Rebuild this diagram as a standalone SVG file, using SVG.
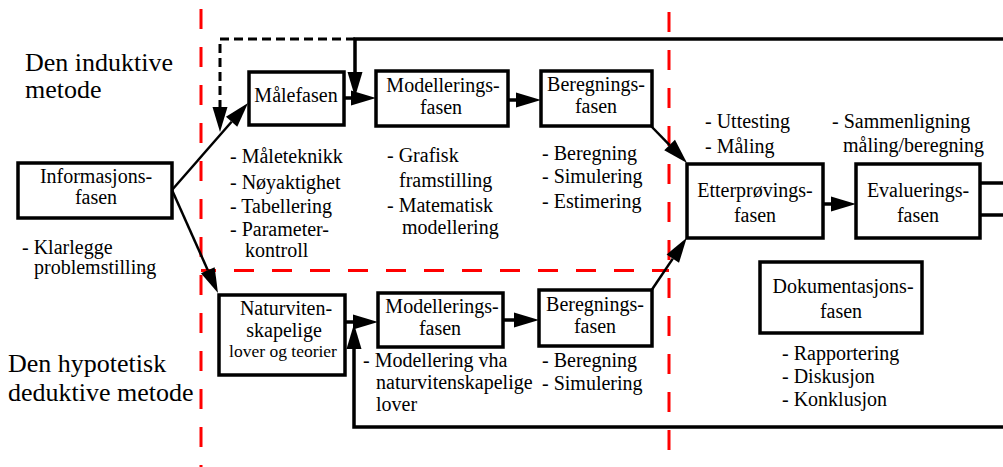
<svg xmlns="http://www.w3.org/2000/svg" width="1003" height="467" viewBox="0 0 1003 467">
<defs>
<marker id="ah" markerUnits="userSpaceOnUse" markerWidth="26" markerHeight="16" refX="0" refY="7.5" orient="auto" overflow="visible">
<path d="M0,0 L25,7.5 L0,15 z" fill="#000"/>
</marker>
<style>
text{font-family:"Liberation Serif","Times New Roman",serif;font-size:20px;fill:#000}
.big{font-size:26px}
.sm{font-size:17.5px}
.c{text-anchor:middle}
.box{fill:#fff;stroke:#000;stroke-width:3.5}
.ln{fill:none;stroke:#000;stroke-width:3.5}
.dg{fill:none;stroke:#000;stroke-width:2.5}
.red{fill:none;stroke:#f00;stroke-width:3;stroke-dasharray:20,18}
.dash{fill:none;stroke:#000;stroke-width:3;stroke-dasharray:9,5}
</style>
</defs>
<rect width="1003" height="467" fill="#fff"/>

<g id="red-lines">
<line class="red" x1="201" y1="9" x2="201" y2="467"/>
<line class="red" x1="669" y1="12" x2="669" y2="467"/>
<line class="red" x1="201" y1="270.5" x2="669" y2="270.5" stroke-dashoffset="5"/>
</g>

<g id="labels">
<text class="big" x="25" y="71">Den induktive</text>
<text class="big" x="25" y="98">metode</text>
<text class="big" x="8" y="372">Den hypotetisk</text>
<text class="big" x="8" y="401">deduktive metode</text>
<text x="22" y="254">- Klarlegge</text>
<text x="34" y="274">problemstilling</text>
<text x="230" y="163">- Måleteknikk</text>
<text x="230" y="189">- Nøyaktighet</text>
<text x="230" y="213">- Tabellering</text>
<text x="230" y="236">- Parameter-</text>
<text x="245" y="257">kontroll</text>
<text x="387" y="162">- Grafisk</text>
<text x="399" y="187">framstilling</text>
<text x="387" y="212">- Matematisk</text>
<text x="402" y="234">modellering</text>
<text x="542" y="160">- Beregning</text>
<text x="542" y="183">- Simulering</text>
<text x="542" y="208">- Estimering</text>
<text x="705" y="128">- Uttesting</text>
<text x="705" y="153">- Måling</text>
<text x="832" y="128">- Sammenligning</text>
<text x="843" y="152">måling/beregning</text>
<text x="363" y="367">- Modellering vha</text>
<text x="376" y="389">naturvitenskapelige</text>
<text x="376" y="411">lover</text>
<text x="542" y="367">- Beregning</text>
<text x="542" y="390">- Simulering</text>
<text x="782" y="360">- Rapportering</text>
<text x="782" y="383">- Diskusjon</text>
<text x="782" y="406">- Konklusjon</text>
</g>

<g id="connectors">
<polyline class="dash" points="355,39 220,39 220,107" marker-end="url(#ah)"/>
<polyline class="ln" points="1003,39 355,39 355,72" marker-end="url(#ah)"/>
<polyline class="ln" points="1003,427 354,427 354,349" marker-end="url(#ah)"/>
<line class="dg" x1="172" y1="190" x2="231.6" y2="121.8" marker-end="url(#ah)"/>
<line class="dg" x1="172" y1="190" x2="207.8" y2="270.2" marker-end="url(#ah)"/>
<line class="ln" x1="344" y1="98" x2="351" y2="98" marker-end="url(#ah)"/>
<line class="ln" x1="508" y1="100" x2="516" y2="100" marker-end="url(#ah)"/>
<line class="dg" x1="651" y1="126" x2="669.6" y2="145.1" marker-end="url(#ah)"/>
<line class="dg" x1="651" y1="291" x2="672.8" y2="258.6" marker-end="url(#ah)"/>
<line class="ln" x1="345" y1="322" x2="353" y2="322" marker-end="url(#ah)"/>
<line class="ln" x1="503" y1="320" x2="514" y2="320" marker-end="url(#ah)"/>
<line class="ln" x1="823" y1="204" x2="831" y2="204" marker-end="url(#ah)"/>
<line class="ln" x1="980" y1="183" x2="1003" y2="183"/>
<line class="ln" x1="980" y1="215" x2="1003" y2="215"/>
</g>

<g id="informasjonsfasen">
<rect class="box" x="18" y="163" width="154" height="55"/>
<text class="c" x="96" y="183">Informasjons-</text>
<text class="c" x="96" y="204">fasen</text>
</g>
<g id="malefasen">
<rect class="box" x="249" y="72" width="95" height="53"/>
<text class="c" x="296" y="102">Målefasen</text>
</g>
<g id="modelleringsfasen1">
<rect class="box" x="376" y="71" width="132" height="55"/>
<text class="c" x="443" y="92">Modellerings-</text>
<text class="c" x="441" y="114">fasen</text>
</g>
<g id="beregningsfasen1">
<rect class="box" x="541" y="71" width="111" height="55"/>
<text class="c" x="596" y="91">Beregnings-</text>
<text class="c" x="596" y="113">fasen</text>
</g>
<g id="naturvitenskapelige">
<rect class="box" x="219" y="295" width="126" height="80"/>
<text class="c" x="286" y="315">Naturviten-</text>
<text class="c" x="284" y="337">skapelige</text>
<text class="c sm" x="283" y="357">lover og teorier</text>
</g>
<g id="modelleringsfasen2">
<rect class="box" x="378" y="293" width="125" height="54"/>
<text class="c" x="442" y="313">Modellerings-</text>
<text class="c" x="440" y="335">fasen</text>
</g>
<g id="beregningsfasen2">
<rect class="box" x="539" y="290" width="113" height="56"/>
<text class="c" x="595" y="311">Beregnings-</text>
<text class="c" x="595" y="333">fasen</text>
</g>
<g id="etterprovingsfasen">
<rect class="box" x="687" y="164" width="136" height="74"/>
<text class="c" x="755" y="197">Etterprøvings-</text>
<text class="c" x="755" y="222">fasen</text>
</g>
<g id="evalueringsfasen">
<rect class="box" x="856" y="164" width="124" height="74"/>
<text class="c" x="918" y="197">Evaluerings-</text>
<text class="c" x="918" y="222">fasen</text>
</g>
<g id="dokumentasjonsfasen">
<rect class="box" x="760" y="262" width="162" height="71"/>
<text class="c" x="843" y="293">Dokumentasjons-</text>
<text class="c" x="841" y="318">fasen</text>
</g>
</svg>
